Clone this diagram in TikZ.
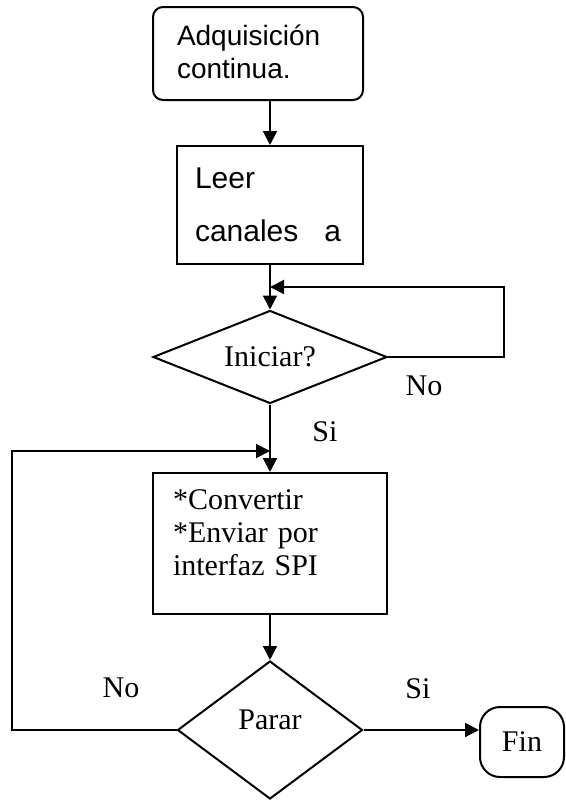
\documentclass[tikz,border=0pt]{standalone}
\usepackage{fontspec}
\setmainfont{Liberation Serif}
\setsansfont{Liberation Sans}
\usetikzlibrary{arrows.meta,shapes.geometric}
\begin{document}
\begin{tikzpicture}[x=0.5pt, y=-0.5pt, line width=1pt,
    texto/.style={font=\fontsize{15}{16.5}\selectfont},
    caja/.style={draw, rectangle, texto, align=left},
    rombo/.style={draw, diamond, texto, inner sep=0pt},
    flecha/.style={-{Triangle[length=7pt,width=7pt]}}]
        \useasboundingbox (0,0) rectangle (566,800);

        \node[caja, rounded corners=5pt, font=\sffamily\fontsize{14}{16.5}\selectfont, text width=81pt, inner xsep=12pt, minimum height=46.5pt] (adq) at (258,53.5) {Adquisición\\continua.\rule[-2pt]{0pt}{2pt}};
        \node[caja, font=\sffamily\fontsize{15}{26.5}\selectfont, text width=75pt, inner xsep=9pt, minimum height=59pt] (leer) at (270,205) {Leer\\canales\hspace{13pt}a};
        \node[rombo, minimum width=117pt, minimum height=46.5pt, aspect=2.5] (ini) at (270,357) {Iniciar?};
        \node[caja, text width=97pt, inner xsep=10pt, minimum height=70.5pt] (conv) at (270,543.5) {*Convertir\\{*}Enviar por\\interfaz SPI\rule[-10.7pt]{0pt}{10.7pt}};
        \node[rombo, minimum width=92.5pt, minimum height=69pt, aspect=1.34, text depth=10pt] (parar) at (270,730) {Parar};
        \node[caja, rounded corners=10pt, minimum width=42pt, minimum height=35pt] (fin) at (522,742) {Fin};

        % etiquetas de las ramas
        \node[texto] (no1) at (424,386) {No};
        \node[texto] (si1) at (325,432) {Si};
        \node[texto] (no2) at (121,688) {No};
        \node[texto] (si2) at (418,689) {Si};

        \coordinate (union1) at (270,287);
        \coordinate (union2) at (270,451);

        \draw[flecha] (adq.south -| leer.north) -- (leer.north);
        \draw[flecha] (leer) -- (ini);
        \draw[flecha] (ini.east) -- ++(116,0) |- (union1);
        \draw[flecha] (ini) -- (conv);
        \draw[flecha] (conv) -- (parar);
        \draw[flecha] (parar.west) -- ++(-165,0) |- (union2);
        \draw[flecha] (parar.east) -- (parar.east -| fin.west);
    \end{tikzpicture}
\end{document}
